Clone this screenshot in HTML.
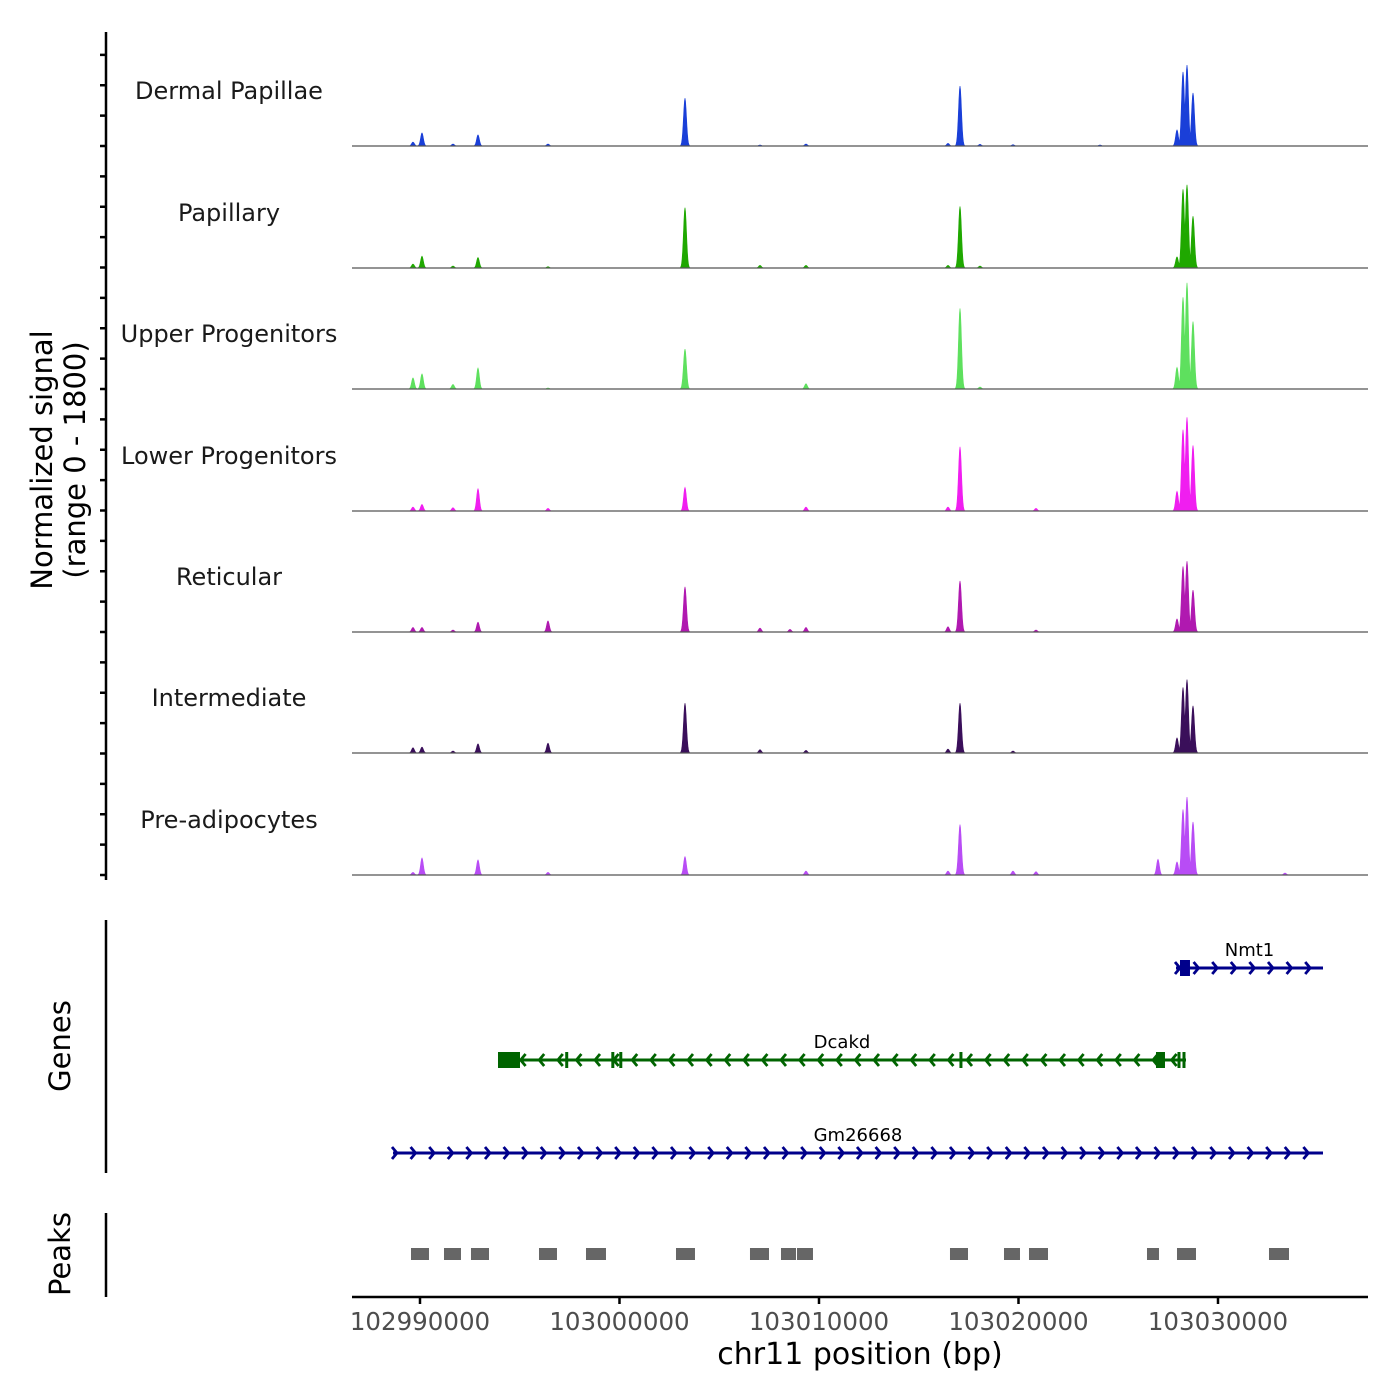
<!DOCTYPE html>
<html><head><meta charset="utf-8"><style>
body{margin:0;background:#fff}
svg{display:block;font-family:"DejaVu Sans","Liberation Sans",sans-serif}
</style></head><body>
<svg id="c" width="1400" height="1400" viewBox="0 0 1400 1400" xmlns="http://www.w3.org/2000/svg"></svg>
<script>
const trackNames=["Dermal Papillae","Papillary","Upper Progenitors","Lower Progenitors","Reticular","Intermediate","Pre-adipocytes"];
const trackColors=["#1a3fd8","#1fa800","#5ee05e","#f01ef0","#b019b0","#3a0f5a","#b84cf5"];
const peakPositions=[102989649,102990100,102991654,102992907,102996416,103003283,103007043,103008546,103009348,103016466,103017068,103018070,103019724,103020877,103024085,103026992,103027945,103028246,103028446,103028747,103033358];
const sigDermal=[60,200,30,170,30,730,15,0,30,40,915,25,20,0,15,0,245,1130,1235,810,0];
const sigPapillary=[60,180,30,160,20,920,40,0,40,40,940,30,0,0,0,0,170,1200,1270,790,0];
const sigUpper=[170,230,70,320,15,610,0,0,80,0,1230,30,0,0,0,0,330,1400,1620,1030,0];
const sigLower=[60,100,50,340,40,360,0,0,60,60,980,0,0,40,0,0,300,1240,1430,1000,0];
const sigReticular=[70,70,30,150,170,690,60,40,70,80,780,0,0,30,0,0,200,1000,1080,640,0];
const sigIntermediate=[80,90,30,140,150,760,50,0,40,60,760,0,30,0,0,0,230,1000,1120,720,0];
const sigPreadipo=[40,260,0,230,40,280,0,0,60,60,770,0,60,50,0,240,200,1000,1190,810,30];
const trackSignals=[sigDermal,sigPapillary,sigUpper,sigLower,sigReticular,sigIntermediate,sigPreadipo];
const xTicks=[102990000,103000000,103010000,103020000,103030000];
const peakStarts=[102989549,102991203,102992556,102995965,102998321,103002832,103006541,103008095,103008897,103016566,103019273,103020526,103026441,103027945,103032556];
const peakEnds=[102990451,102992055,102993459,102996867,102999323,103003784,103007494,103008847,103009699,103017469,103020075,103021479,103027042,103028897,103033559];
const geneNames=["Nmt1","Dcakd","Gm26668"];
const geneStarts=[103027895,102993910,102988647];
const geneEnds=[103035263,103028396,103035263];
const geneStrands=["+","-","+"];
const geneExons=[[[103028095,103028596]],[[102993910,102995013],[102997280,102997360],[102999590,102999660],[102999990,103000070],[103017040,103017100],[103026892,103027343],[103027970,103028020],[103028220,103028270]],[]];

const NS="http://www.w3.org/2000/svg";
const svg=document.getElementById('c');
function mk(t,a,p){const e=document.createElementNS(NS,t);for(const k in a)e.setAttribute(k,a[k]);(p||svg).appendChild(e);return e;}
const X0=352,X1=1368,BP0=102986592,BP1=103037519;
const xs=bp=>X0+(bp-BP0)/(BP1-BP0)*(X1-X0);
const baselines=[146,268,389,511,632,753,875];
const ys=(v,b)=>b-v/1800*118;

let g=mk('g',{});


mk('line',{x1:106,y1:32,x2:106,y2:880,stroke:'#000','stroke-width':2.5},g);
for(let y=146-3*30.375;y<=880;y+=30.375){mk('line',{x1:100,y1:y,x2:106,y2:y,stroke:'#000','stroke-width':2.5},g);}
let yl=mk('text',{x:0,y:0,'font-size':29,'text-anchor':'middle',transform:'translate(52,460) rotate(-90)'});
yl.textContent='Normalized signal';


let yl2=mk('text',{x:0,y:0,'font-size':29,'text-anchor':'middle',transform:'translate(85,460) rotate(-90)'});
yl2.textContent='(range 0 - 1800)';



trackNames.forEach((nm,i)=>{
  const b=baselines[i];
  const tg=mk('g',{});
  
  
  const lb=mk('text',{x:229,y:b-47,'font-size':24,'text-anchor':'middle',fill:'#1a1a1a'},tg);
  lb.textContent=nm;
  
  
  let d='M'+X0+','+b;
  const vals=trackSignals[i];
  for(let x=X0;x<=X1;x+=0.5){
    const bp=BP0+(x-X0)/(BP1-BP0)*0+BP0*0+BP0+(x-X0)/(X1-X0)*(BP1-BP0)-BP0;
    let v=0;
    peakPositions.forEach((p,k)=>{const s=vals[k]>500?75:70;const z=(bp-p)/s;v=Math.max(v,vals[k]*Math.exp(-0.5*z*z));});
    d+=' L'+x.toFixed(1)+','+ys(v,b).toFixed(2);
  }
  d+=' L'+X1+','+b+' Z';
  const p=mk('path',{d:d,fill:trackColors[i],stroke:trackColors[i],'stroke-width':0.6},tg);
  
  
  mk('line',{x1:X0,y1:b,x2:X1,y2:b,stroke:'#555','stroke-width':1.2},tg);
});

const gg=mk('g',{});


mk('line',{x1:106,y1:920,x2:106,y2:1173,stroke:'#000','stroke-width':2.5},gg);
const gt=mk('text',{x:0,y:0,'font-size':29,'text-anchor':'middle',transform:'translate(70,1046) rotate(-90)'},gg);
gt.textContent='Genes';


const geneY=[968,1060,1153];
const geneCol=["#00008b","#006400","#00008b"];
geneNames.forEach((n,i)=>{
  const y=geneY[i],c=geneCol[i],a=xs(geneStarts[i]),e=xs(geneEnds[i]);
  const ge=mk('g',{},gg);
  
  
  mk('line',{x1:a,y1:y,x2:e,y2:y,stroke:c,'stroke-width':3},ge);
  for(let x=a+4;x<=e+1;x+=18.6){
    const dx=geneStrands[i]=='+'?-5:5;
    mk('polyline',{points:(x+dx)+','+(y-6)+' '+x+','+y+' '+(x+dx)+','+(y+6),fill:'none',stroke:c,'stroke-width':2.8},ge);
  }
  geneExons[i].forEach(ex=>{const x1=xs(ex[0]),x2=xs(ex[1]);const w=Math.max(x2-x1,3);mk('rect',{x:x1,y:y-8,width:w,height:16,fill:c},ge);});
  const t=mk('text',{x:(a+e)/2,y:y-12,'font-size':18,'text-anchor':'middle',fill:'#000'},ge);
  t.textContent=n;
  
  
});

const pg=mk('g',{});


mk('line',{x1:106,y1:1213,x2:106,y2:1297,stroke:'#000','stroke-width':2.5},pg);
const pt=mk('text',{x:0,y:0,'font-size':29,'text-anchor':'middle',transform:'translate(70,1254) rotate(-90)'},pg);
pt.textContent='Peaks';


peakStarts.forEach((s,i)=>{
  const r=mk('rect',{x:xs(s),y:1248,width:xs(peakEnds[i])-xs(s),height:12,fill:'#666'},pg);
  
  
});

const xg=mk('g',{});


mk('line',{x1:X0,y1:1297,x2:X1,y2:1297,stroke:'#000','stroke-width':2.5},xg);
xTicks.forEach(t=>{
  const x=xs(t);
  mk('line',{x1:x,y1:1297,x2:x,y2:1304,stroke:'#000','stroke-width':2.5},xg);
  const l=mk('text',{x:x,y:1330,'font-size':24.5,'text-anchor':'middle',fill:'#4d4d4d'},xg);
  l.textContent=t;
  
  
});
const xt=mk('text',{x:860,y:1364,'font-size':30,'text-anchor':'middle'},xg);
xt.textContent='chr11 position (bp)';


</script>
</body></html>
